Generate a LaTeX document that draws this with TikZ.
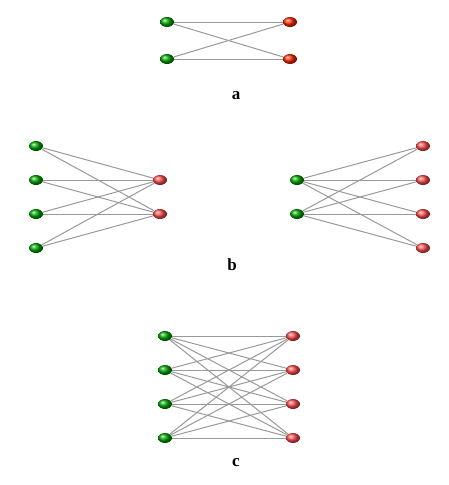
\documentclass[tikz,border=0pt]{standalone}
\usepackage{fontspec}
\setmainfont{Liberation Serif}
\usetikzlibrary{shapes.geometric}

\begin{document}
\begin{tikzpicture}[x=1pt, y=-1pt]

    \tikzset{
      src/.style  = {shape=ellipse, inner sep=0pt, minimum width=14pt,
                     minimum height=10pt, shading=ball, ball color=green!65!black},
      dst/.style  = {shape=ellipse, inner sep=0pt, minimum width=14pt,
                     minimum height=10pt, shading=ball, ball color=red!70},
      dsto/.style = {dst, ball color=red!70!orange},
      link/.style = {draw=gray!80, line width=1pt},
      tag/.style  = {font=\fontsize{17}{17}\selectfont\bfseries},
    }

    \useasboundingbox (0,0) rectangle (448,485);

    % a
    \node[src ] (a1) at (167,22) {};
    \node[src ] (a2) at (167,59) {};
    \node[dsto] (A1) at (290,22) {};
    \node[dsto] (A2) at (290,59) {};
    \node[tag ] (la) at (236,96) {a};

    % b, left
    \node[src] (b1) at (36,146) {};
    \node[src] (b2) at (36,180) {};
    \node[src] (b3) at (36,214) {};
    \node[src] (b4) at (36,248) {};
    \node[dst] (B1) at (160,180) {};
    \node[dst] (B2) at (160,214) {};

    % b, right
    \node[src] (c1) at (297,180) {};
    \node[src] (c2) at (297,214) {};
    \node[dst] (C1) at (423,146) {};
    \node[dst] (C2) at (423,180) {};
    \node[dst] (C3) at (423,214) {};
    \node[dst] (C4) at (423,248) {};
    \node[tag] (lb) at (232,265) {b};

    % c
    \node[src] (d1) at (165,336) {};
    \node[src] (d2) at (165,370) {};
    \node[src] (d3) at (165,404) {};
    \node[src] (d4) at (165,438) {};
    \node[dst] (D1) at (293,336) {};
    \node[dst] (D2) at (293,370) {};
    \node[dst] (D3) at (293,404) {};
    \node[dst] (D4) at (293,438) {};
    \node[tag] (lc) at (236,463) {c};

    \path[link]
      (a1) edge (A1) (a1) edge (A2) (a2) edge (A1) (a2) edge (A2)
      (b1) edge (B1) (b1) edge (B2) (b2) edge (B1) (b2) edge (B2)
      (b3) edge (B1) (b3) edge (B2) (b4) edge (B1) (b4) edge (B2)
      (c1) edge (C1) (c1) edge (C2) (c1) edge (C3) (c1) edge (C4)
      (c2) edge (C1) (c2) edge (C2) (c2) edge (C3) (c2) edge (C4)
      (d1) edge (D1) (d1) edge (D2) (d1) edge (D3) (d1) edge (D4)
      (d2) edge (D1) (d2) edge (D2) (d2) edge (D3) (d2) edge (D4)
      (d3) edge (D1) (d3) edge (D2) (d3) edge (D3) (d3) edge (D4)
      (d4) edge (D1) (d4) edge (D2) (d4) edge (D3) (d4) edge (D4);

  \end{tikzpicture}
\end{document}
